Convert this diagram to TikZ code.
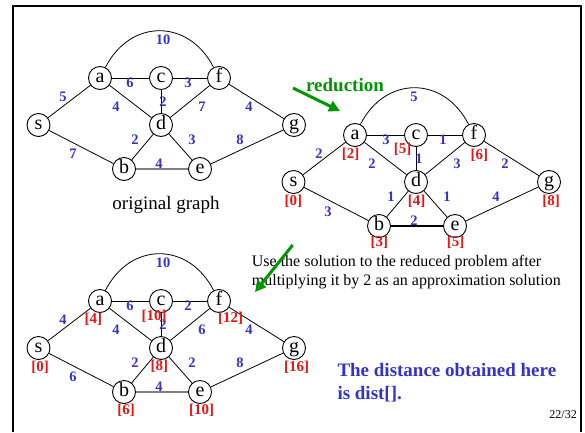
\documentclass[tikz,border=0pt]{standalone}
\usepackage{fontspec}
\setmainfont{Liberation Serif}
\usetikzlibrary{arrows.meta}
\definecolor{wblue}{RGB}{51,51,204}
\definecolor{dred}{RGB}{235,20,20}
\definecolor{dgreen}{RGB}{0,150,0}
\begin{document}
\begin{tikzpicture}[x=1pt,y=1pt,
  vtx/.style={circle,draw,line width=0.9pt,minimum size=23pt,inner sep=0pt,
    font=\fontsize{20}{20}\selectfont,text height=9pt,text depth=0pt},
  edge/.style={line width=0.8pt},
  beedge/.style={line width=1.6pt,draw=gray},
  wt/.style={text=wblue,font=\fontsize{14.5}{15}\selectfont\bfseries,inner sep=0pt},
  dist/.style={text=dred,font=\fontsize{15}{15}\selectfont\bfseries,inner sep=0pt},
  garrow/.style={draw=dgreen,fill=dgreen,line width=3pt,-{Triangle[length=11pt,width=11pt]}},
  plain/.style={inner sep=0pt}
]
\useasboundingbox (0,0) rectangle (585,432);
\draw[line width=2pt] (13,0) -- (13,425.5) -- (581,425.5) -- (581,0);

% ---------- Graph 1: original ----------
\begin{scope}
\node[vtx] (s1) at (38.5,307) {s};
\node[vtx] (a1) at (100,354) {a};
\node[vtx] (c1) at (161,354) {c};
\node[vtx] (f1) at (219,354) {f};
\node[vtx] (d1) at (161,307) {d};
\node[vtx] (g1) at (294,307) {g};
\node[vtx] (b1) at (124,263) {b};
\node[vtx] (e1) at (200,263) {e};
\draw[edge] (s1) -- (a1);
\draw[edge] (s1) -- (b1);
\draw[edge] (a1) -- (c1);
\draw[edge] (c1) -- (f1);
\draw[edge] (a1) -- (d1);
\draw[edge] (c1) -- (d1);
\draw[edge] (d1) -- (f1);
\draw[edge] (f1) -- (g1);
\draw[edge] (b1) -- (d1);
\draw[edge] (d1) -- (e1);
\draw[edge] (e1) -- (g1);
\draw[beedge] (b1) -- (e1);
\draw[edge] (a1) to[out=63,in=117,looseness=1.3] (f1);
\node[wt] (w1af) at (163,392) {10};
\node[wt] (w1sa) at (63,335) {5};
\node[wt] (w1ac) at (130,349) {6};
\node[wt] (w1cf) at (188,349) {3};
\node[wt] (w1ad) at (116,325) {4};
\node[wt] (w1cd) at (163,330) {2};
\node[wt] (w1df) at (202,325) {7};
\node[wt] (w1fg) at (249,325) {4};
\node[wt] (w1bd) at (135,292) {2};
\node[wt] (w1de) at (192,292) {3};
\node[wt] (w1eg) at (240,292) {8};
\node[wt] (w1sb) at (73,278) {7};
\node[wt] (w1be) at (159,268) {4};
\node[plain,font=\fontsize{19}{19}\selectfont] (cap1) at (166,227) {original graph};
\end{scope}

% ---------- Graph 2: reduced ----------
\begin{scope}[shift={(255,-57)}]
\node[vtx] (s2) at (38.5,307) {s};
\node[vtx] (a2) at (100,354) {a};
\node[vtx] (c2) at (161,354) {c};
\node[vtx] (f2) at (219,354) {f};
\node[vtx] (d2) at (161,307) {d};
\node[vtx] (g2) at (294,307) {g};
\node[vtx] (b2) at (124,263) {b};
\node[vtx] (e2) at (200,263) {e};
\draw[edge] (s2) -- (a2);
\draw[edge] (s2) -- (b2);
\draw[edge] (a2) -- (c2);
\draw[edge] (c2) -- (f2);
\draw[edge] (a2) -- (d2);
\draw[edge] (c2) -- (d2);
\draw[edge] (d2) -- (f2);
\draw[edge] (f2) -- (g2);
\draw[edge] (b2) -- (d2);
\draw[edge] (d2) -- (e2);
\draw[edge] (e2) -- (g2);
\draw[line width=1.2pt] (b2) -- (e2);
\draw[edge] (a2) to[out=63,in=117,looseness=1.3] (f2);
\node[wt] (w2af) at (159,392) {5};
\node[wt] (w2sa) at (64,335) {2};
\node[wt] (w2ac) at (131,349) {3};
\node[wt] (w2cf) at (188,349) {1};
\node[wt] (w2ad) at (117,325) {2};
\node[wt] (w2cd) at (164,330) {1};
\node[wt] (w2df) at (202,325) {3};
\node[wt] (w2fg) at (250,325) {2};
\node[wt] (w2bd) at (136,292) {1};
\node[wt] (w2de) at (192,292) {1};
\node[wt] (w2eg) at (241,292) {4};
\node[wt] (w2sb) at (73,277) {3};
\node[wt] (w2be) at (159,268) {2};
\node[dist] (r2a) at (95.7,335) {[2]};
\node[dist] (r2c) at (147.7,339.7) {[5]};
\node[dist] (r2f) at (224.3,334) {[6]};
\node[dist] (r2s) at (38.3,287.3) {[0]};
\node[dist] (r2d) at (161.7,287.3) {[4]};
\node[dist] (r2g) at (296,287.3) {[8]};
\node[dist] (r2b) at (124.3,246.3) {[3]};
\node[dist] (r2e) at (200.7,246.3) {[5]};
\end{scope}

% ---------- Graph 3: approximation ----------
\begin{scope}[shift={(0,-223)}]
\node[vtx] (s3) at (38.5,307) {s};
\node[vtx] (a3) at (100,354) {a};
\node[vtx] (c3) at (161,354) {c};
\node[vtx] (f3) at (219,354) {f};
\node[vtx] (d3) at (161,307) {d};
\node[vtx] (g3) at (294,307) {g};
\node[vtx] (b3) at (124,263) {b};
\node[vtx] (e3) at (200,263) {e};
\draw[edge] (s3) -- (a3);
\draw[edge] (s3) -- (b3);
\draw[edge] (a3) -- (c3);
\draw[edge] (c3) -- (f3);
\draw[edge] (a3) -- (d3);
\draw[edge] (c3) -- (d3);
\draw[edge] (d3) -- (f3);
\draw[edge] (f3) -- (g3);
\draw[edge] (b3) -- (d3);
\draw[edge] (d3) -- (e3);
\draw[edge] (e3) -- (g3);
\draw[beedge] (b3) -- (e3);
\draw[edge] (a3) to[out=63,in=117,looseness=1.3] (f3);
\node[wt] (w3af) at (163,392) {10};
\node[wt] (w3sa) at (63,335) {4};
\node[wt] (w3ac) at (130,349) {6};
\node[wt] (w3cf) at (188,349) {2};
\node[wt] (w3ad) at (116,325) {4};
\node[wt] (w3cd) at (163,330) {2};
\node[wt] (w3df) at (202,325) {6};
\node[wt] (w3fg) at (249,325) {4};
\node[wt] (w3bd) at (135,292) {2};
\node[wt] (w3de) at (192,292) {2};
\node[wt] (w3eg) at (240,292) {8};
\node[wt] (w3sb) at (73,278) {6};
\node[wt] (w3be) at (159,268) {4};
\node[dist] (r3a) at (93.3,335.7) {[4]};
\node[dist] (r3c) at (154,339) {[10]};
\node[dist] (r3f) at (230.7,336.7) {[12]};
\node[dist] (r3s) at (40,287.7) {[0]};
\node[dist] (r3d) at (159.3,289) {[8]};
\node[dist] (r3g) at (296.7,287.7) {[16]};
\node[dist] (r3b) at (126,244.3) {[6]};
\node[dist] (r3e) at (201.7,244.3) {[10]};
\end{scope}

% ---------- annotations ----------
\node[plain,text=dgreen,font=\fontsize{19}{19}\selectfont\bfseries] (red) at (345,347) {reduction};
\coordinate (ar1s) at (293,344);
\coordinate (ar1e) at (340,321);
\draw[garrow] (ar1s) -- (ar1e);

\node[plain,anchor=north west,align=left,font=\fontsize{16}{19}\selectfont] (use) at (251.7,176.6)
  {Use the solution to the reduced problem after\\multiplying it by 2 as an approximation solution};
\coordinate (ar2s) at (292.7,187);
\coordinate (ar2e) at (255,140);
\draw[garrow] (ar2s) -- (ar2e);

\node[plain,anchor=north west,align=left,text=wblue,font=\fontsize{19}{23}\selectfont\bfseries] (dist) at (337.3,68.5)
  {The distance obtained here\\is dist[].};
\node[plain,anchor=east,font=\fontsize{12}{12}\selectfont] (pg) at (577,17) {22/32};
\end{tikzpicture}
\end{document}
